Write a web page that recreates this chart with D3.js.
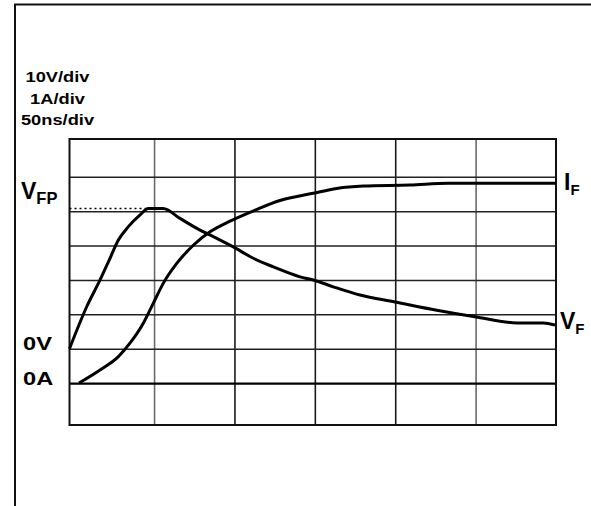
<!DOCTYPE html>
<html><head><meta charset="utf-8">
<script src="https://cdn.jsdelivr.net/npm/d3@7"></script>
<style>
body{margin:0;background:#fff}
svg text{font-family:"Liberation Sans",Arial,Helvetica,sans-serif;font-weight:bold;fill:#000}
</style></head><body>
<svg id="chart" width="591" height="506"></svg>
<script>
// Scope settings shown in the corner
const scaleLabels = ["10V/div", "1A/div", "50ns/div"];
// Graticule: 50 ns per division, vertical divisions counted from the 0 A trace baseline
const timeTicks = [50, 100, 150, 200, 250];
const divTicks = [0, 1, 2, 3, 4, 5, 6];

// Forward voltage V_F (volts) against time (ns)
const vfTime  = [-2.6, 8.1, 16.4, 22.6, 27.8, 34.0, 41.3, 46.4, 55.7, 66.1, 78.6, 89.0, 99.3, 111.7, 124.2, 140.8, 149.0, 161.5, 178.1, 199.9, 225.8, 249.6, 275.6, 292.1, 299.4];
const vfVolts = [0.0, 12.2, 20.0, 26.3, 31.6, 35.5, 38.9, 40.8, 40.8, 37.9, 34.5, 32.1, 29.6, 26.3, 23.8, 20.9, 20.0, 18.0, 15.6, 13.6, 11.2, 9.3, 7.5, 7.5, 6.9];
// Forward current I_F (amps) against time (ns)
const ifTime = [3.3, 16.4, 27.8, 35.0, 43.3, 49.5, 55.7, 64.1, 74.4, 84.8, 97.2, 112.8, 128.3, 149.0, 163.6, 180.1, 209.2, 233.0, 299.8];
const ifAmps = [0.0, 0.38, 0.77, 1.16, 1.74, 2.32, 2.90, 3.48, 4.01, 4.40, 4.71, 5.03, 5.31, 5.52, 5.66, 5.73, 5.76, 5.81, 5.81];
// Forward recovery peak voltage
const vfpVolts = 40.8;
const vfpTime = 46.4;

const svg = d3.select("#chart");
const plot = {left: 69.5, right: 556, top: 139, bottom: 425};

const x = d3.scaleLinear().domain([-2.6, 300]).range([plot.left, plot.right]);
// 1 A per division, 0 A on division 0
const yI = d3.scaleLinear().domain([-1.22, 7.1]).range([plot.bottom, plot.top]);
// 10 V per division, 0 V one division above 0 A
const yV = d3.scaleLinear().domain([(-1.22 - 1) * 10, (7.1 - 1) * 10]).range([plot.bottom, plot.top]);

// outer frame (top and left edges)
svg.append("path")
  .attr("d", `M15,506 V4.5 H591`)
  .attr("fill", "none").attr("stroke", "#111").attr("stroke-width", 2);

// vertical graticule
const gx = svg.append("g")
  .attr("transform", `translate(0,${plot.top})`)
  .call(d3.axisBottom(x).tickValues(timeTicks).tickSize(plot.bottom - plot.top).tickFormat(""));
gx.select(".domain").remove();
gx.selectAll(".tick line")
  .attr("stroke", d => (d === 50 || d === 250) ? "#6a6a6a" : "#1a1a1a")
  .attr("stroke-width", 1.6);

// horizontal graticule
const gy = svg.append("g")
  .attr("transform", `translate(${plot.left},0)`)
  .call(d3.axisRight(yI).tickValues(divTicks).tickSize(plot.right - plot.left).tickFormat(""));
gy.select(".domain").remove();
gy.selectAll(".tick line")
  .attr("stroke", d => d === 0 ? "#000" : "#222")
  .attr("stroke-width", d => d === 0 ? 2.2 : 1.6);

// graticule border
svg.append("rect")
  .attr("x", plot.left).attr("y", plot.top)
  .attr("width", plot.right - plot.left).attr("height", plot.bottom - plot.top)
  .attr("fill", "none").attr("stroke", "#111").attr("stroke-width", 2);

// dotted marker at V_FP
svg.append("line")
  .attr("x1", x(-2.6)).attr("x2", x(vfpTime))
  .attr("y1", yV(vfpVolts)).attr("y2", yV(vfpVolts))
  .attr("stroke", "#000").attr("stroke-width", 1.4).attr("stroke-dasharray", "2,3");

const lineV = d3.line().x(d => x(d[0])).y(d => yV(d[1])).curve(d3.curveMonotoneX);
const lineI = d3.line().x(d => x(d[0])).y(d => yI(d[1])).curve(d3.curveMonotoneX);

svg.append("path")
  .datum(d3.zip(ifTime, ifAmps))
  .attr("d", lineI)
  .attr("fill", "none").attr("stroke", "#000").attr("stroke-width", 3).attr("stroke-linejoin", "round");
svg.append("path")
  .datum(d3.zip(vfTime, vfVolts))
  .attr("d", lineV)
  .attr("fill", "none").attr("stroke", "#000").attr("stroke-width", 3).attr("stroke-linejoin", "round");

// scale settings, set in a wide bold face
svg.selectAll("text.setting")
  .data(scaleLabels)
  .join("text")
  .attr("class", "setting")
  .attr("transform", (d, i) => `translate(57.5,${82 + i * 21.7}) scale(1.26,1)`)
  .attr("text-anchor", "middle")
  .attr("font-size", 14.5)
  .text(d => d);

// trace labels
function subLabel(xp, yp, main, sub, mainSize, subSize) {
  const t = svg.append("text").attr("x", xp).attr("y", yp).attr("font-size", mainSize);
  t.append("tspan").text(main);
  t.append("tspan").attr("font-size", subSize).attr("dy", 5.5).text(sub);
}
subLabel(21, 198.5, "V", "FP", 23, 16.5);
subLabel(560, 328.5, "V", "F", 23, 15);
subLabel(564, 189.5, "I", "F", 23, 15);

// baseline markers
const zeroLabels = [{t: "0V", y: yV(0) + 1.5}, {t: "0A", y: yI(0) + 1.5}];
svg.selectAll("text.zero")
  .data(zeroLabels)
  .join("text")
  .attr("class", "zero")
  .attr("transform", d => `translate(23,${d.y}) scale(1.27,1)`)
  .attr("font-size", 18.6)
  .text(d => d.t);
</script>
</body></html>
